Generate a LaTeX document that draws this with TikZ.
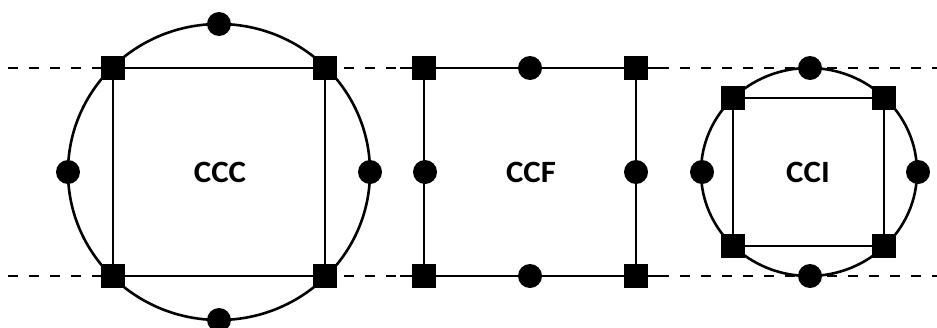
\documentclass[tikz,border=0pt]{standalone}
\usepackage{fontspec}
\setmainfont{Carlito}
\begin{document}
\begin{tikzpicture}[x=1pt,y=-1pt,
  sqmark/.style={fill=black,draw=none,minimum size=24pt,inner sep=0pt,rectangle},
  dotmark/.style={fill=black,draw=none,minimum size=24pt,inner sep=0pt,circle},
  edge/.style={line width=2.6pt},
  guide/.style={line width=2.8pt,dash pattern=on 10pt off 11pt},
  lbl/.style={font=\bfseries\fontsize{31}{31}\selectfont,inner sep=0pt,xscale=1.06}]
\useasboundingbox (0,0) rectangle (937,327);
% guide lines
\coordinate (gl1) at (8,68); \coordinate (gr1) at (937,68);
\coordinate (gl2) at (8,276); \coordinate (gr2) at (937,276);
\draw[guide] (gl1) -- (gr1);
\draw[guide] (gl2) -- (gr2);
% ---- CCC ----
\coordinate (a1) at (113,68); \coordinate (a2) at (325,68);
\coordinate (a3) at (325,276); \coordinate (a4) at (113,276);
\coordinate (ac) at (219,172);
\draw[edge] (ac) ellipse [x radius=151, y radius=148];
\draw[edge] (a1) -- (a2) -- (a3) -- (a4) -- cycle;
\foreach \n in {a1,a2,a3,a4} \node[sqmark] at (\n) {};
\node[dotmark] (at) at (219,24) {};
\node[dotmark] (ab) at (219,320) {};
\node[dotmark] (al) at (68,172) {};
\node[dotmark] (ar) at (370,172) {};
\node[lbl] (ccc) at (220,172) {CCC};
% ---- CCF ----
\coordinate (b1) at (424,68); \coordinate (b2) at (636,68);
\coordinate (b3) at (636,276); \coordinate (b4) at (424,276);
\coordinate (bel1) at (400,68); \coordinate (ber1) at (660,68);
\coordinate (bel2) at (400,276); \coordinate (ber2) at (660,276);
\draw[edge] (bel1) -- (ber1);
\draw[edge] (bel2) -- (ber2);
\draw[edge] (b1) -- (b4);
\draw[edge] (b2) -- (b3);
\foreach \n in {b1,b2,b3,b4} \node[sqmark] at (\n) {};
\node[dotmark] (bt) at (530,68) {};
\node[dotmark] (bb) at (530,276) {};
\node[dotmark] (bl) at (425,172) {};
\node[dotmark] (br) at (636,172) {};
\node[lbl] (ccf) at (531,172) {CCF};
% ---- CCI ----
\coordinate (c1) at (733,98); \coordinate (c2) at (884,98);
\coordinate (c3) at (884,246); \coordinate (c4) at (733,246);
\coordinate (cc) at (809,172);
\draw[edge] (cc) ellipse [x radius=108, y radius=104];
\draw[edge] (c1) -- (c2) -- (c3) -- (c4) -- cycle;
\foreach \n in {c1,c2,c3,c4} \node[sqmark] at (\n) {};
\node[dotmark] (ct) at (810,68) {};
\node[dotmark] (cb) at (810,276) {};
\node[dotmark] (cl) at (702,172) {};
\node[dotmark] (cr) at (918,172) {};
\node[lbl] (cci) at (808,172) {CCI};
\end{tikzpicture}
\end{document}
